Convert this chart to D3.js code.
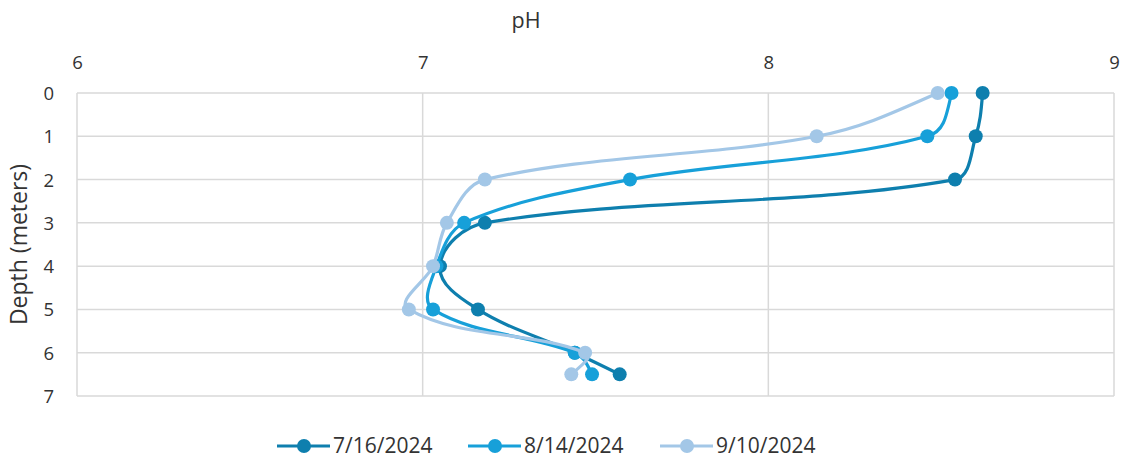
<!DOCTYPE html>
<html><head><meta charset="utf-8">
<script src="https://cdn.jsdelivr.net/npm/d3@7"></script>
<style>body{margin:0;background:#fff}svg{display:block;font-family:"Open Sans","Noto Sans",sans-serif}</style>
</head><body><svg width="1126" height="459"></svg>
<script>
const depths = [0,1,2,3,4,5,6,6.5];
const seriesNames = ["7/16/2024","8/14/2024","9/10/2024"];
const ph0716 = [8.62,8.60,8.54,7.18,7.05,7.16,7.44,7.57];
const ph0814 = [8.53,8.46,7.60,7.12,7.04,7.03,7.44,7.49];
const ph0910 = [8.49,8.14,7.18,7.07,7.03,6.96,7.47,7.43];
const xTicks = [6,7,8,9];
const yTicks = [0,1,2,3,4,5,6,7];
const colors = ["#0e7fae","#17a0d9","#a3c7e7"];

const svg = d3.select("svg");
const x = d3.scaleLinear().domain([6,9]).range([77,1114]);
const y = d3.scaleLinear().domain([0,7]).range([93,396]);
const grid = "#d9d9d9";
const txt = "#333333";

svg.append("g").selectAll("line").data(xTicks).join("line")
  .attr("x1",d=>x(d)).attr("x2",d=>x(d)).attr("y1",y(0)).attr("y2",y(7))
  .attr("stroke",grid).attr("stroke-width",1.5);
svg.append("g").selectAll("line").data(yTicks).join("line")
  .attr("x1",x(6)).attr("x2",x(9)).attr("y1",d=>y(d)).attr("y2",d=>y(d))
  .attr("stroke",grid).attr("stroke-width",1.5);

const fmt = d3.format("d");
const xa = svg.append("g").attr("transform",`translate(0,${y(0)-24})`)
  .call(d3.axisTop(x).tickValues(xTicks).tickFormat(fmt).tickSize(0).tickPadding(0));
xa.select(".domain").remove();
xa.attr("font-size",null).attr("font-family",null);
xa.selectAll("text").attr("text-anchor","middle").attr("y",0).attr("dy","0")
  .style("font-size","18.5px").style("fill",txt);
const ya = svg.append("g").attr("transform",`translate(${x(6)-23},0)`)
  .call(d3.axisLeft(y).tickValues(yTicks).tickFormat(fmt).tickSize(0).tickPadding(0));
ya.select(".domain").remove();
ya.attr("font-size",null).attr("font-family",null);
ya.selectAll("text").attr("text-anchor","end").attr("x",0).attr("dy","0.35em")
  .style("font-size","18.5px").style("fill",txt);

svg.append("text").attr("x",526).attr("y",28).attr("text-anchor","middle")
  .style("font-size","21.5px").style("fill",txt).text("pH");
svg.append("text").attr("transform",`translate(27,${(y(0)+y(7))/2}) rotate(-90)`)
  .attr("text-anchor","middle").style("font-size","23px").style("fill",txt).text("Depth (meters)");

// Excel-like smoothing: tangent from neighbours, arm length proportional to segment length
function smoothPath(pts, k){
  const p = d3.path();
  const n = pts.length;
  const tan = pts.map((q,i)=>{
    if(i===0 || i===n-1) return null;
    const dx = pts[i+1][0]-pts[i-1][0], dy = pts[i+1][1]-pts[i-1][1];
    const L = Math.hypot(dx,dy) || 1;
    return [dx/L, dy/L];
  });
  p.moveTo(pts[0][0],pts[0][1]);
  for(let i=0;i<n-1;i++){
    const a = pts[i], b = pts[i+1];
    const len = Math.hypot(b[0]-a[0], b[1]-a[1]);
    let c1, c2;
    if(tan[i+1]) c2 = [b[0]-tan[i+1][0]*len*k, b[1]-tan[i+1][1]*len*k];
    if(tan[i]) c1 = [a[0]+tan[i][0]*len*k, a[1]+tan[i][1]*len*k];
    if(!c1 && c2) c1 = [a[0]+(c2[0]-a[0])*2/3, a[1]+(c2[1]-a[1])*2/3];
    if(!c2 && c1) c2 = [b[0]+(c1[0]-b[0])*2/3, b[1]+(c1[1]-b[1])*2/3];
    if(!c1 && !c2){ c1 = a; c2 = b; }
    p.bezierCurveTo(c1[0],c1[1],c2[0],c2[1],b[0],b[1]);
  }
  return p.toString();
}

const all = [ph0716,ph0814,ph0910];
all.forEach((vals,i)=>{
  const pts = vals.map((v,j)=>[x(v),y(depths[j])]);
  const g = svg.append("g");
  g.append("path").attr("d",smoothPath(pts,1/3)).attr("fill","none").attr("stroke",colors[i]).attr("stroke-width",3.2);
  g.selectAll("circle").data(pts).join("circle").attr("cx",d=>d[0]).attr("cy",d=>d[1]).attr("r",7).attr("fill",colors[i]);
});

const lx = [277,468,660];
const ly = 446;
seriesNames.forEach((n,i)=>{
  const g = svg.append("g").attr("transform",`translate(${lx[i]},${ly})`);
  g.append("line").attr("x1",0).attr("x2",53).attr("y1",0).attr("y2",0).attr("stroke",colors[i]).attr("stroke-width",3.2);
  g.append("circle").attr("cx",27).attr("cy",0).attr("r",7).attr("fill",colors[i]);
  g.append("text").attr("x",56).attr("y",0).attr("dy","0.35em").style("font-size","21px").style("fill",txt).text(n);
});
</script></body></html>
